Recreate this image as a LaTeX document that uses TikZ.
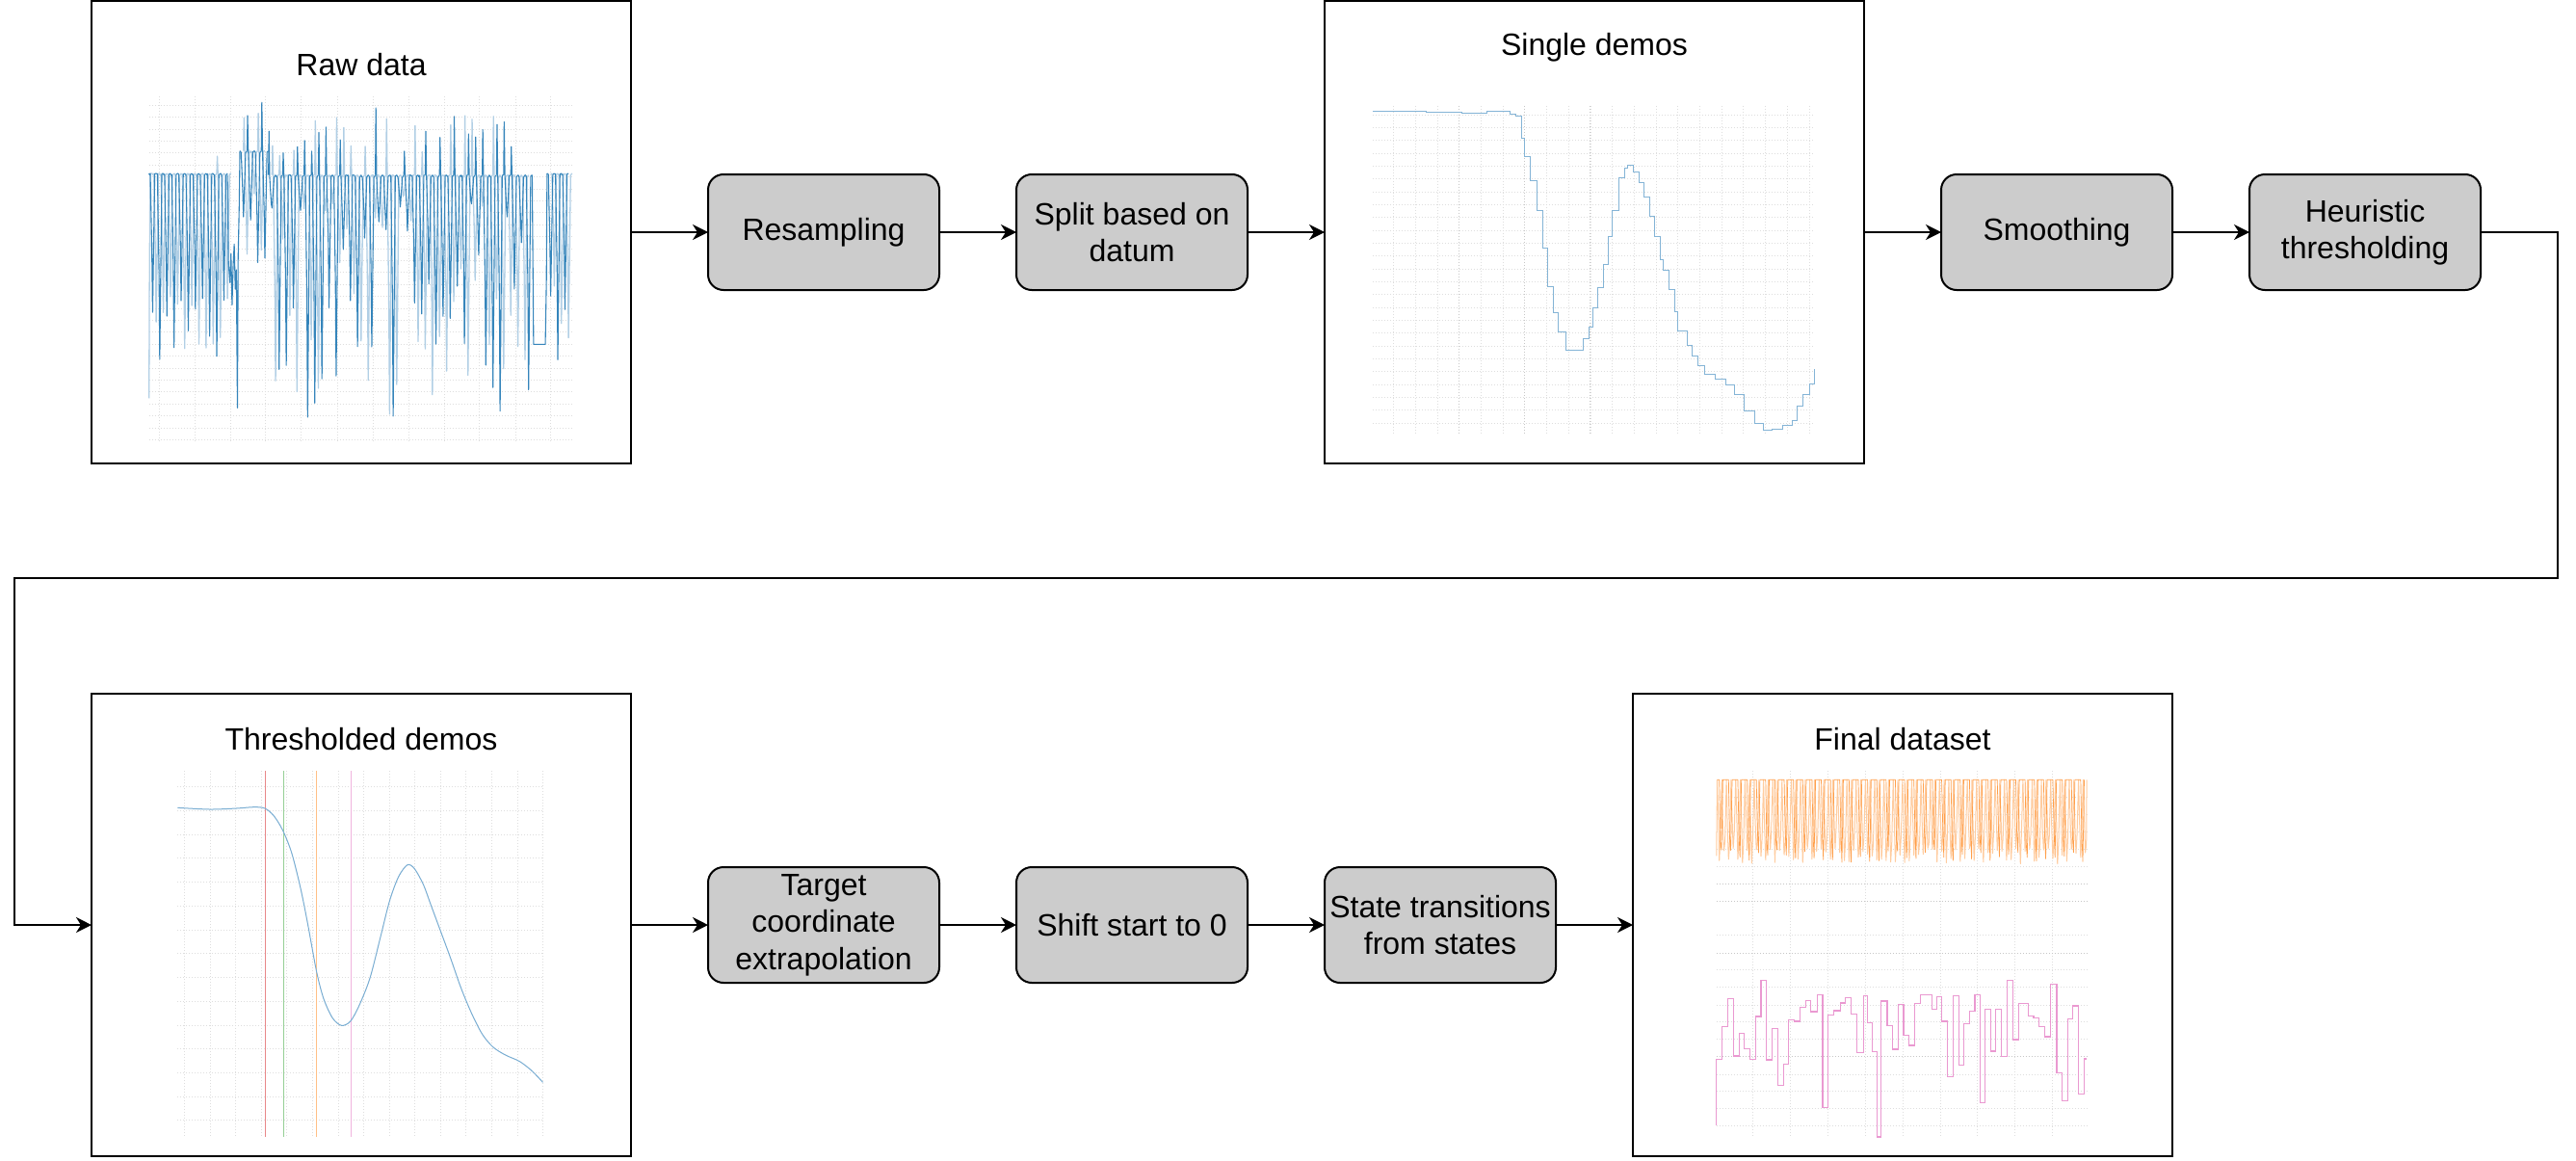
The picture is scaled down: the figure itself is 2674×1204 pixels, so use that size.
\documentclass[tikz,border=0pt]{standalone}
\usepackage{fontspec}
\setmainfont{Liberation Sans}
\usetikzlibrary{arrows.meta}
\definecolor{boxgray}{HTML}{CCCCCC}
\definecolor{tabblue}{HTML}{1F77B4}
\definecolor{taborange}{HTML}{FF7F0E}
\definecolor{tabpink}{HTML}{E377C2}
\definecolor{tabred}{HTML}{D62728}
\definecolor{tabgreen}{HTML}{2CA02C}
% #1 x0, #2 last index, #3 top level, #4 spike probability, #5 spike amplitude, #6 bottom min, #7 bottom range, #8 style
\newcommand{\myteeth}[8]{%
  \foreach \i in {0,...,#2}{%
    \pgfmathsetmacro\xa{#1+\i*20}%
    \pgfmathsetmacro\ya{#3+6*rnd-(rnd<#4)*#5*(0.3+0.7*rnd)}%
    \pgfmathsetmacro\yb{#6+#7*rnd}%
    \pgfmathsetmacro\yc{#3+8*rnd}%
    \draw[#8] (\xa,#3) -- ({\xa+1.5},\ya) -- ({\xa+3.5},\yc) -- ({\xa+8},{(\yc+\yb)/2+40*rnd}) -- ({\xa+10},\yb) -- ({\xa+13},{(\yc+\yb)/2}) -- ({\xa+16},\yc) -- ({\xa+20},#3);%
  }}
\begin{document}
\begin{tikzpicture}[x=0.5pt,y=-0.5pt,
  panel/.style={draw=black, line width=1pt, fill=white, minimum width=280pt, minimum height=240pt, inner sep=0pt, outer sep=0pt},
  proc/.style={draw=black, line width=1pt, fill=boxgray, rounded corners=8pt, minimum width=120pt, minimum height=60pt, inner sep=2pt, outer sep=0pt, align=center, font=\fontsize{16}{19.2}\selectfont},
  ttl/.style={anchor=base, inner sep=0pt, font=\fontsize{16}{19.2}\selectfont},
  arr/.style={line width=1pt, -{Stealth[length=8pt,width=8pt,inset=2.5pt]}},
  gridl/.style={draw=black!13, densely dotted, line width=0.5pt},
  gridd/.style={draw=black!22, densely dotted, line width=0.5pt},
  rawA/.style={draw=tabblue!90, line width=0.55pt, line join=round},
  rawB/.style={draw=tabblue!35, line width=0.65pt, line join=round},
  demoline/.style={draw=tabblue!55, line width=0.5pt},
  smoothline/.style={draw=tabblue!60, line width=0.5pt},
  orA/.style={draw=taborange!40, line width=0.5pt, line join=round},
  orB/.style={draw=taborange!75, line width=0.35pt, line join=round},
  pinkline/.style={draw=tabpink!75, line width=0.55pt}
]
\useasboundingbox (0,0) rectangle (2674,1204);

% ---------- panels ----------
\node[panel] (raw) at (375,241) {};
\node[panel] (single) at (1655,241) {};
\node[panel] (thresh) at (375,960) {};
\node[panel] (final) at (1975,960) {};

\node[ttl] (rawt) at (375,78.5) {Raw data};
\node[ttl] (singlet) at (1655,58) {Single demos};
\node[ttl] (thresht) at (375,778) {Thresholded demos};
\node[ttl] (finalt) at (1975,778) {Final dataset};

% ---------- process boxes ----------
\node[proc] (resamp) at (855,241) {Resampling};
\node[proc] (split) at (1175,241) {Split based on\\datum};
\node[proc] (smooth) at (2135,241) {Smoothing};
\node[proc] (heur) at (2455,241) {Heuristic\\thresholding};
\node[proc] (target) at (855,960) {Target\\coordinate\\extrapolation};
\node[proc] (shift) at (1175,960) {Shift start to 0};
\node[proc] (state) at (1495,960) {State transitions\\from states};

% ---------- connectors ----------
\coordinate (c2) at (2655,600);
\coordinate (c3) at (15,600);
\draw[arr] (raw.east) -- (resamp.west);
\draw[arr] (resamp.east) -- (split.west);
\draw[arr] (split.east) -- (single.west);
\draw[arr] (single.east) -- (smooth.west);
\draw[arr] (smooth.east) -- (heur.west);
\draw[arr] (heur.east) -| (c2) -- (c3) |- (thresh.west);
\draw[arr] (thresh.east) -- (target.west);
\draw[arr] (target.east) -- (shift.west);
\draw[arr] (shift.east) -- (state.west);
\draw[arr] (state.east) -- (final.west);

% ---------- Raw data plot ----------
\begin{scope}[shift={(90,0)}, xscale=0.36991, yscale=0.33333]
  \foreach \X in {203,303,403,501,601,703,803,903,1003,1101,1203,1303}
    \draw[gridl] (\X,300) -- (\X,1375);
  \foreach \k in {0,...,28}
    \draw[gridl] (175,{328+37.2*\k}) -- (1360,{328+37.2*\k});
  \pgfmathsetseed{7}
  % light pass
  \draw[rawB] (175,1240) -- (176,900) -- (178,540) -- (185,540);
  \myteeth{185}{10}{540}{0.1}{60}{880}{260}{rawB}
  \myteeth{440}{2}{470}{0.5}{150}{560}{300}{rawB}
  \myteeth{520}{35}{545}{0.35}{200}{600}{700}{rawB}
  \myteeth{1302}{2}{540}{0.1}{60}{860}{280}{rawB}
  % dark pass
  \myteeth{175}{10}{540}{0.1}{60}{900}{240}{rawA}
  \draw[rawA] (395,545) -- (398,820) -- (402,880) -- (405,790) -- (408,950) -- (411,830)
    -- (414,760) -- (417,900) -- (420,840) -- (423,1270) -- (425,800) -- (428,640) -- (430,470);
  \myteeth{430}{3}{470}{0.5}{170}{560}{300}{rawA}
  \myteeth{510}{36}{545}{0.4}{230}{620}{720}{rawA}
  \draw[rawA] (1250,545) -- (1254,1072) -- (1287,1072) -- (1290,880) -- (1292,540);
  \myteeth{1292}{2}{540}{0.15}{150}{880}{250}{rawA}
\end{scope}

% ---------- Single demos plot ----------
\begin{scope}[shift={(1370,0)}, xscale=0.36991, yscale=0.33333]
  \foreach \k in {0,...,19}
    \draw[gridl] ({207+61.4*\k},330) -- ({207+61.4*\k},1350);
  \foreach \X in {390,574,758}
    \draw[gridd] (\X,330) -- (\X,1350);
  \foreach \k in {0,...,24}
    \draw[gridl] (148,{358+40*\k}) -- (1388,{358+40*\k});
  \draw[demoline] (148,347) -| (300,350) -| (400,353) -| (470,347) -| (520,347)
    -| (535,355) -| (550,362) -| (565,432) -| (575,488) -| (590,562) -| (610,655)
    -| (625,773) -| (640,892) -| (655,975) -| (670,1035) -| (690,1090) -| (715,1090)
    -| (740,1055) -| (755,1018) -| (765,960) -| (780,897) -| (795,823) -| (810,738)
    -| (820,657) -| (840,553) -| (855,525) -| (865,515) -| (880,535) -| (895,570)
    -| (910,615) -| (925,675) -| (940,737) -| (955,808) -| (965,842) -| (980,902)
    -| (995,970) -| (1005,1030) -| (1030,1075) -| (1045,1110) -| (1060,1140)
    -| (1080,1165) -| (1110,1180) -| (1140,1200) -| (1165,1230) -| (1190,1280)
    -| (1220,1320) -| (1245,1340) -| (1270,1338) -| (1300,1325) -| (1325,1310)
    -| (1340,1265) -| (1355,1230) -| (1375,1195) -| (1388,1150);
\end{scope}

% ---------- Thresholded demos plot ----------
\begin{scope}[shift={(90,715)}, xscale=0.36991, yscale=0.33333]
  \foreach \k in {0,...,14}
    \draw[gridl] ({275+71.8*\k},255) -- ({275+71.8*\k},1395);
  \foreach \k in {0,...,14}
    \draw[gridl] (255,{305+74.2*\k}) -- (1280,{305+74.2*\k});
  \draw[draw=tabred!55, line width=0.6pt] (502,255) -- (502,1395);
  \draw[draw=tabgreen!50, line width=0.6pt] (552,255) -- (552,1395);
  \draw[draw=taborange!50, line width=0.6pt] (645,255) -- (645,1395);
  \draw[draw=tabpink!55, line width=0.6pt] (743,255) -- (743,1395);
  \draw[smoothline] plot[smooth, tension=0.5] coordinates {
    (255,370) (345,375) (420,372) (470,368) (500,372) (525,395) (550,440)
    (575,510) (600,620) (620,730) (645,880) (665,965) (690,1025) (715,1048)
    (740,1035) (765,985) (795,900) (825,770) (850,660) (875,585) (900,548)
    (920,560) (945,610) (965,670) (990,745) (1020,835) (1050,930) (1080,1010)
    (1110,1075) (1140,1115) (1175,1140) (1215,1160) (1250,1190) (1280,1225)};
\end{scope}

% ---------- Final dataset plot ----------
\begin{scope}[shift={(1690,715)}, xscale=0.36991, yscale=0.33333]
  \foreach \X in {350,455,561,667,772,878,980,1086,1191}
    \draw[gridl] (\X,255) -- (\X,1395);
  \foreach \Y in {337,391,445,499,553,765,875,928,985,1037,1090,1143,1200,1252,1305,1360}
    \draw[gridl] (248,\Y) -- (1287,\Y);
  \foreach \Y in {607,661,823,1143}
    \draw[gridd] (248,\Y) -- (1287,\Y);
  \pgfmathsetseed{21}
  \draw[orA] (248,520)
   \foreach \i in {0,...,79}{
     -- ({250+\i*13},283) -- ({253+\i*13},{380+60*rnd}) -- ({256+\i*13},{495+50*rnd}) -- ({259+\i*13},{430+60*rnd})
   } -- (1287,283);
  \pgfmathsetseed{5}
  \draw[orB] (250,283)
   \foreach \i in {0,...,39}{
     -- ({256+\i*26},283) -- ({259+\i*26},{420+60*rnd}) -- ({262+\i*26},{500+40*rnd}) -- ({266+\i*26},283)
   };
  \draw[pinkline] (248,1360) |- (263,1153) |- (280,1052) |- (296,965) |- (313,1143)
    |- (326,1072) |- (342,1120) |- (357,1153) |- (373,1020) |- (389,907) |- (405,1155)
    |- (420,1057) |- (436,1235) |- (451,1168) |- (467,1030) |- (483,1035) |- (498,992)
    |- (513,970) |- (530,1005) |- (546,953) |- (560,1303) |- (577,1015) |- (595,1002)
    |- (610,978) |- (626,962) |- (643,1013) |- (660,1132) |- (672,955) |- (686,1040)
    |- (698,1130) |- (710,1395) |- (727,972) |- (743,1048) |- (758,1122) |- (773,983)
    |- (789,1078) |- (805,1110) |- (820,980) |- (852,953) |- (866,997) |- (881,958)
    |- (897,1035) |- (913,1208) |- (929,956) |- (943,1172) |- (958,1042) |- (973,1003)
    |- (987,953) |- (1002,1288) |- (1017,998) |- (1032,1128) |- (1048,998) |- (1063,1145)
    |- (1080,908) |- (1095,1092) |- (1122,980) |- (1138,1018) |- (1153,1025) |- (1169,1052)
    |- (1186,1083) |- (1203,920) |- (1218,1195) |- (1233,1283) |- (1248,1028) |- (1264,987)
    |- (1280,1262) |- (1287,1152);
\end{scope}
\end{tikzpicture}
\end{document}
